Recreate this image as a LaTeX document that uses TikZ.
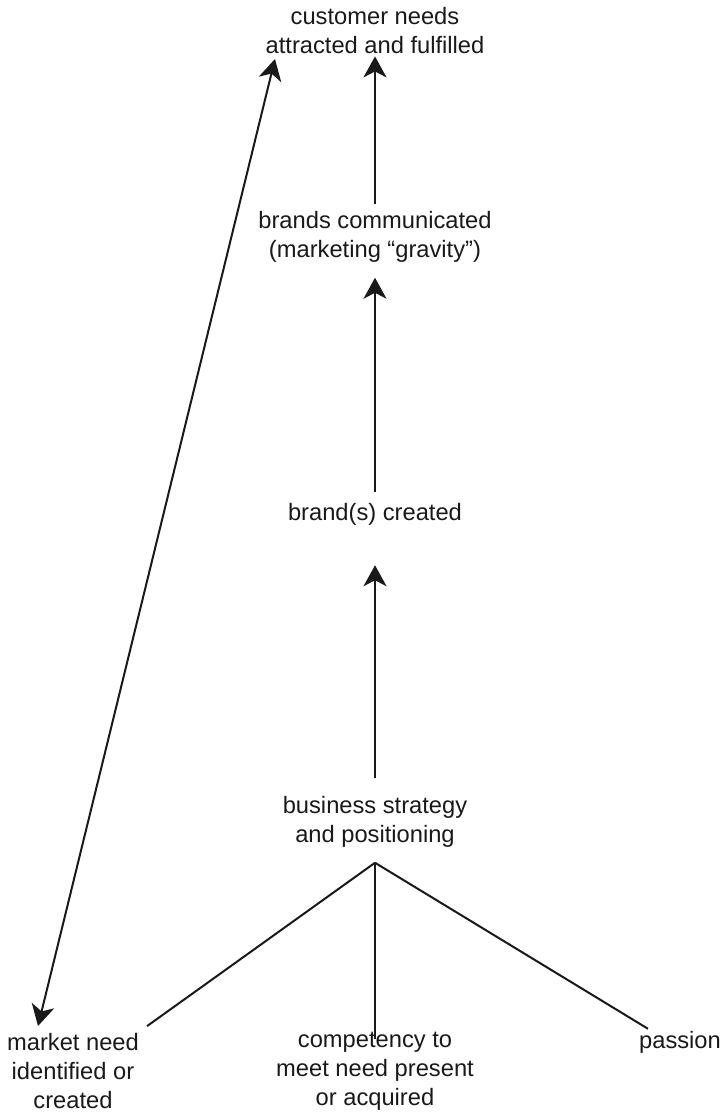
\documentclass[tikz,border=0pt]{standalone}
\usepackage{fontspec}
\setmainfont{Liberation Sans}
\usetikzlibrary{arrows.meta,calc}
\begin{document}
\begin{tikzpicture}[x=1pt,y=-1pt,
  lbl/.style={align=center,inner sep=0pt,text=black!90,font=\fontsize{23.7}{29}\selectfont},
  link/.style={line width=2pt,black!90},
  arr/.style={link,-{Stealth[length=21pt,width=23pt,inset=6pt]}},
  dblarr/.style={link,{Stealth[length=21pt,width=23pt,inset=6pt]}-{Stealth[length=21pt,width=23pt,inset=6pt]}}]
\useasboundingbox (0,0) rectangle (727,1116);

% stages of the brand chain
\node[lbl] (cust)   at (375,31)   {customer needs\\attracted and fulfilled};
\node[lbl] (bcomm)  at (375,237)  {brands communicated\\(marketing “gravity”)};
\node[lbl] (bcreat) at (375,514)  {brand(s) created};
\node[lbl] (strat)  at (375,822)  {business strategy\\and positioning};

% the three roots
\node[lbl] (need)   at (73,1071)  {market need\\identified or\\created};
\node[lbl] (comp)   at (375,1071) {competency to\\meet need present\\or acquired};
\node[lbl] (pass)   at (680,1042) {passion};

% upward arrows
\draw[arr] ($(bcomm.north)+(0,-7)$) -- ($(cust.south)+(0,2)$);
\draw[arr] ($(bcreat.north)+(0,-11)$) -- ($(bcomm.south)+(0,15)$);
\draw[arr] ($(strat.north)+(0,-18)$) -- ($(bcreat.south)+(0,40)$);

% tree under the strategy
\coordinate (apex) at ($(strat.south)+(0,15)$);
\draw[link] (apex) -- ($(need.north east)+(8,-7)$);
\draw[link] (apex) -- ($(comp.north)+(0,7)$);
\draw[link] (apex) -- ($(pass.north west)+(9,-2)$);

% link between customer needs and market need
\coordinate (ctop) at (275,59);
\coordinate (nbot) at (38,1026);
\draw[dblarr] (nbot) -- (ctop);
\end{tikzpicture}
\end{document}
